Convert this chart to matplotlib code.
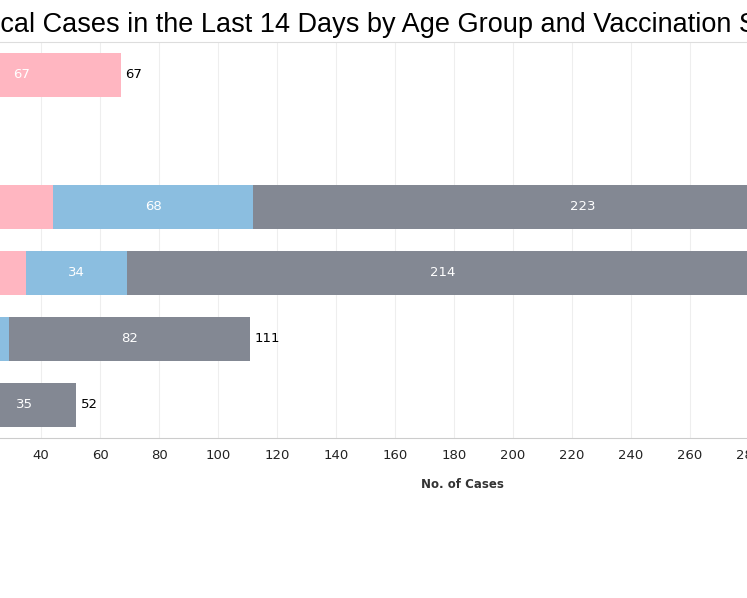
import matplotlib
matplotlib.use("Agg")
import matplotlib.pyplot as plt
import numpy as np

rows = ["r1", "r2", "r3", "r4", "r5", "r6"]
pink = [67, 0, 44, 35, 12, 8]
blue = [0, 0, 68, 34, 17, 9]
grey = [0, 0, 223, 214, 82, 35]
c_pink, c_blue, c_grey = "#FFB6C1", "#8BBEE0", "#838893"

fig = plt.figure(figsize=(7.47, 5.98), dpi=100)
ax = fig.add_axes([-77 / 747, 1 - 438 / 598, 885 / 747, 396 / 598])
y = np.arange(len(rows))
h = 0.66
left = np.zeros(len(rows))
for vals, col in [(pink, c_pink), (blue, c_blue), (grey, c_grey)]:
    vals = np.array(vals, float)
    ax.barh(y, vals, left=left, height=h, color=col, zorder=2)
    for yi, l, v in zip(y, left, vals):
        if v > 0:
            ax.text(l + v / 2, yi, f"{int(v)}", color="white", ha="center", va="center", fontsize=9.5, zorder=3)
    left = left + vals
for yi, t in zip(y, left):
    if t > 0:
        ax.text(t + 1.5, yi, f"{int(t)}", color="black", ha="left", va="center", fontsize=9.5)

ax.set_xlim(0, 300)
ax.set_ylim(5.5, -0.5)
ax.set_xticks(range(0, 301, 20))
ax.set_yticks([])
ax.tick_params(axis="x", length=0, labelsize=9.5, colors="#222222", pad=8)
ax.grid(axis="x", color="#eeeeee", linewidth=0.8, zorder=0)
for s in ["left", "right"]:
    ax.spines[s].set_visible(False)
ax.spines["top"].set_color("#dddddd")
ax.spines["bottom"].set_color("#cccccc")
ax.set_xlabel("No. of Cases", fontsize=8.5, fontweight="bold", color="#333333", labelpad=10)
ax.xaxis.set_label_coords((462 + 77) / 885, -40 / 396)

# title, cropped on the left like the reference
r = fig.canvas.get_renderer()
probe = fig.text(0, 0, "Criti", fontsize=19.5, family="Liberation Sans")
w = probe.get_window_extent(r).width
probe.remove()
fig.text(-w / 747, 1 - 25 / 598, "Critical Cases in the Last 14 Days by Age Group and Vaccination Status",
         fontsize=19.5, family="Liberation Sans", ha="left", va="center", color="black")

fig.savefig("out.png", dpi=100)
